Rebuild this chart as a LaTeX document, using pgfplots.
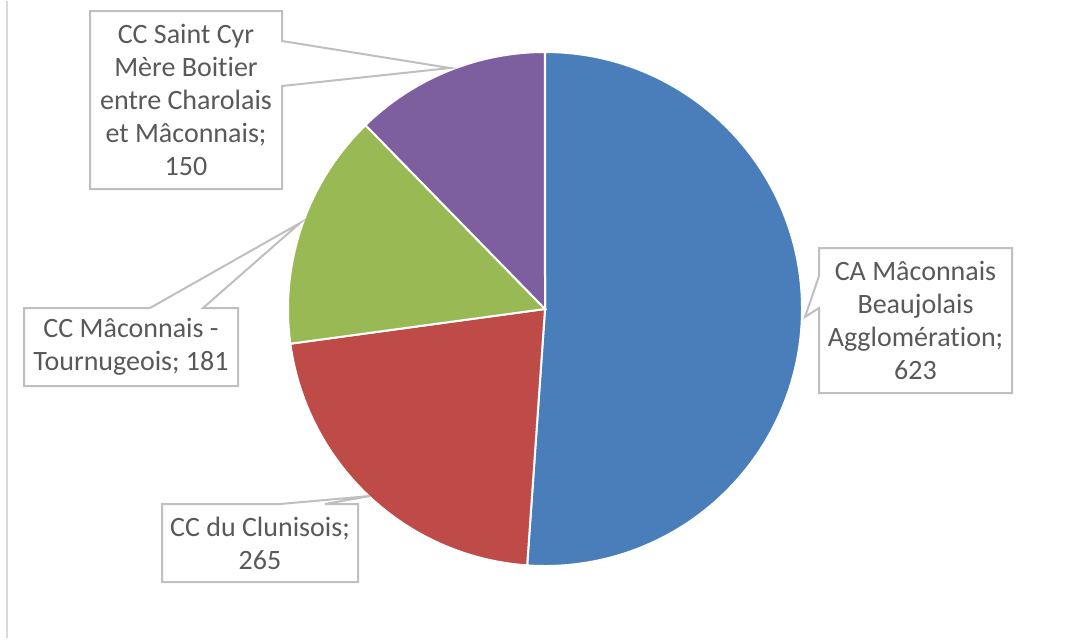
\documentclass[border=0pt]{standalone}
\usepackage{pgfplots}
\pgfplotsset{compat=1.18}
\usepackage{pgfplotstable}
\usepackage{fontspec}
\setmainfont[Ligatures=NoCommon]{Carlito}
\definecolor{cA}{HTML}{4A7EBB}
\definecolor{cB}{HTML}{BE4B48}
\definecolor{cC}{HTML}{98B954}
\definecolor{cD}{HTML}{7D5FA0}
\definecolor{txt}{HTML}{595959}
\definecolor{bord}{HTML}{BFBFBF}
\definecolor{frame}{HTML}{D9D9D9}
\pgfplotstableread[col sep=semicolon]{
id;value
A;623
B;265
C;181
D;150
}\piedata
\begin{document}
\begin{tikzpicture}
\pgfplotstablegetelem{0}{value}\of\piedata \let\vA\pgfplotsretval
\pgfplotstablegetelem{1}{value}\of\piedata \let\vB\pgfplotsretval
\pgfplotstablegetelem{2}{value}\of\piedata \let\vC\pgfplotsretval
\pgfplotstablegetelem{3}{value}\of\piedata \let\vD\pgfplotsretval
\pgfmathsetmacro\tot{\vA+\vB+\vC+\vD}
\pgfmathsetmacro\aA{90}
\pgfmathsetmacro\aB{\aA-360*(\vA/\tot)}
\pgfmathsetmacro\aC{\aB-360*(\vB/\tot)}
\pgfmathsetmacro\aD{\aC-360*(\vC/\tot)}
\pgfmathsetmacro\aE{\aD-360*(\vD/\tot)}
\def\R{128.5pt}
\begin{axis}[scale only axis, width=537pt, height=318.5pt,
  xmin=0, xmax=1074, ymin=0, ymax=637, y dir=reverse,
  hide axis, clip=false]
\path (axis cs:0,0) rectangle (axis cs:1074,637);
\draw[frame, line width=1pt] (axis cs:7,0) -- (axis cs:7,637);
% slices
\filldraw[fill=cA, draw=white, line width=1pt] (axis cs:545,308) -- ++(\aA:\R) arc[start angle=\aA, end angle=\aB, radius=\R] -- cycle;
\filldraw[fill=cB, draw=white, line width=1pt] (axis cs:545,308) -- ++(\aB:\R) arc[start angle=\aB, end angle=\aC, radius=\R] -- cycle;
\filldraw[fill=cC, draw=white, line width=1pt] (axis cs:545,308) -- ++(\aC:\R) arc[start angle=\aC, end angle=\aD, radius=\R] -- cycle;
\filldraw[fill=cD, draw=white, line width=1pt] (axis cs:545,308) -- ++(\aD:\R) arc[start angle=\aD, end angle=\aE, radius=\R] -- cycle;
% callouts
\tikzset{co/.style={fill=white, draw=bord, line width=1pt, line join=miter},
  lab/.style={align=center, text=txt, font=\fontsize{14}{16.5}\selectfont, inner sep=0pt}}
\filldraw[co] (axis cs:90,10) -- (axis cs:282,10) -- (axis cs:282,40) -- (axis cs:450,67) -- (axis cs:282,85) -- (axis cs:282,188) -- (axis cs:90,188) -- cycle;
\node[lab] at (axis cs:186,99) {CC Saint Cyr\\Mère Boitier\\entre Charolais\\et Mâconnais;\\\vD};
\filldraw[co] (axis cs:24,307) -- (axis cs:150,307) -- (axis cs:300,222) -- (axis cs:203,307) -- (axis cs:238,307) -- (axis cs:238,385) -- (axis cs:24,385) -- cycle;
\node[lab] at (axis cs:131,346) {CC Mâconnais -\\Tournugeois; \vC};
\filldraw[co] (axis cs:819,247) -- (axis cs:1012,247) -- (axis cs:1012,392) -- (axis cs:819,392) -- (axis cs:819,307) -- (axis cs:805,316) -- (axis cs:819,275) -- cycle;
\node[lab] at (axis cs:915.5,319.5) {CA Mâconnais\\Beaujolais\\Agglomération;\\\vA};
\filldraw[co] (axis cs:162,503) -- (axis cs:280,503) -- (axis cs:370,495) -- (axis cs:325,503) -- (axis cs:358,503) -- (axis cs:358,581) -- (axis cs:162,581) -- cycle;
\node[lab] at (axis cs:260,542) {CC du Clunisois;\\\vB};
\end{axis}
\end{tikzpicture}
\end{document}
